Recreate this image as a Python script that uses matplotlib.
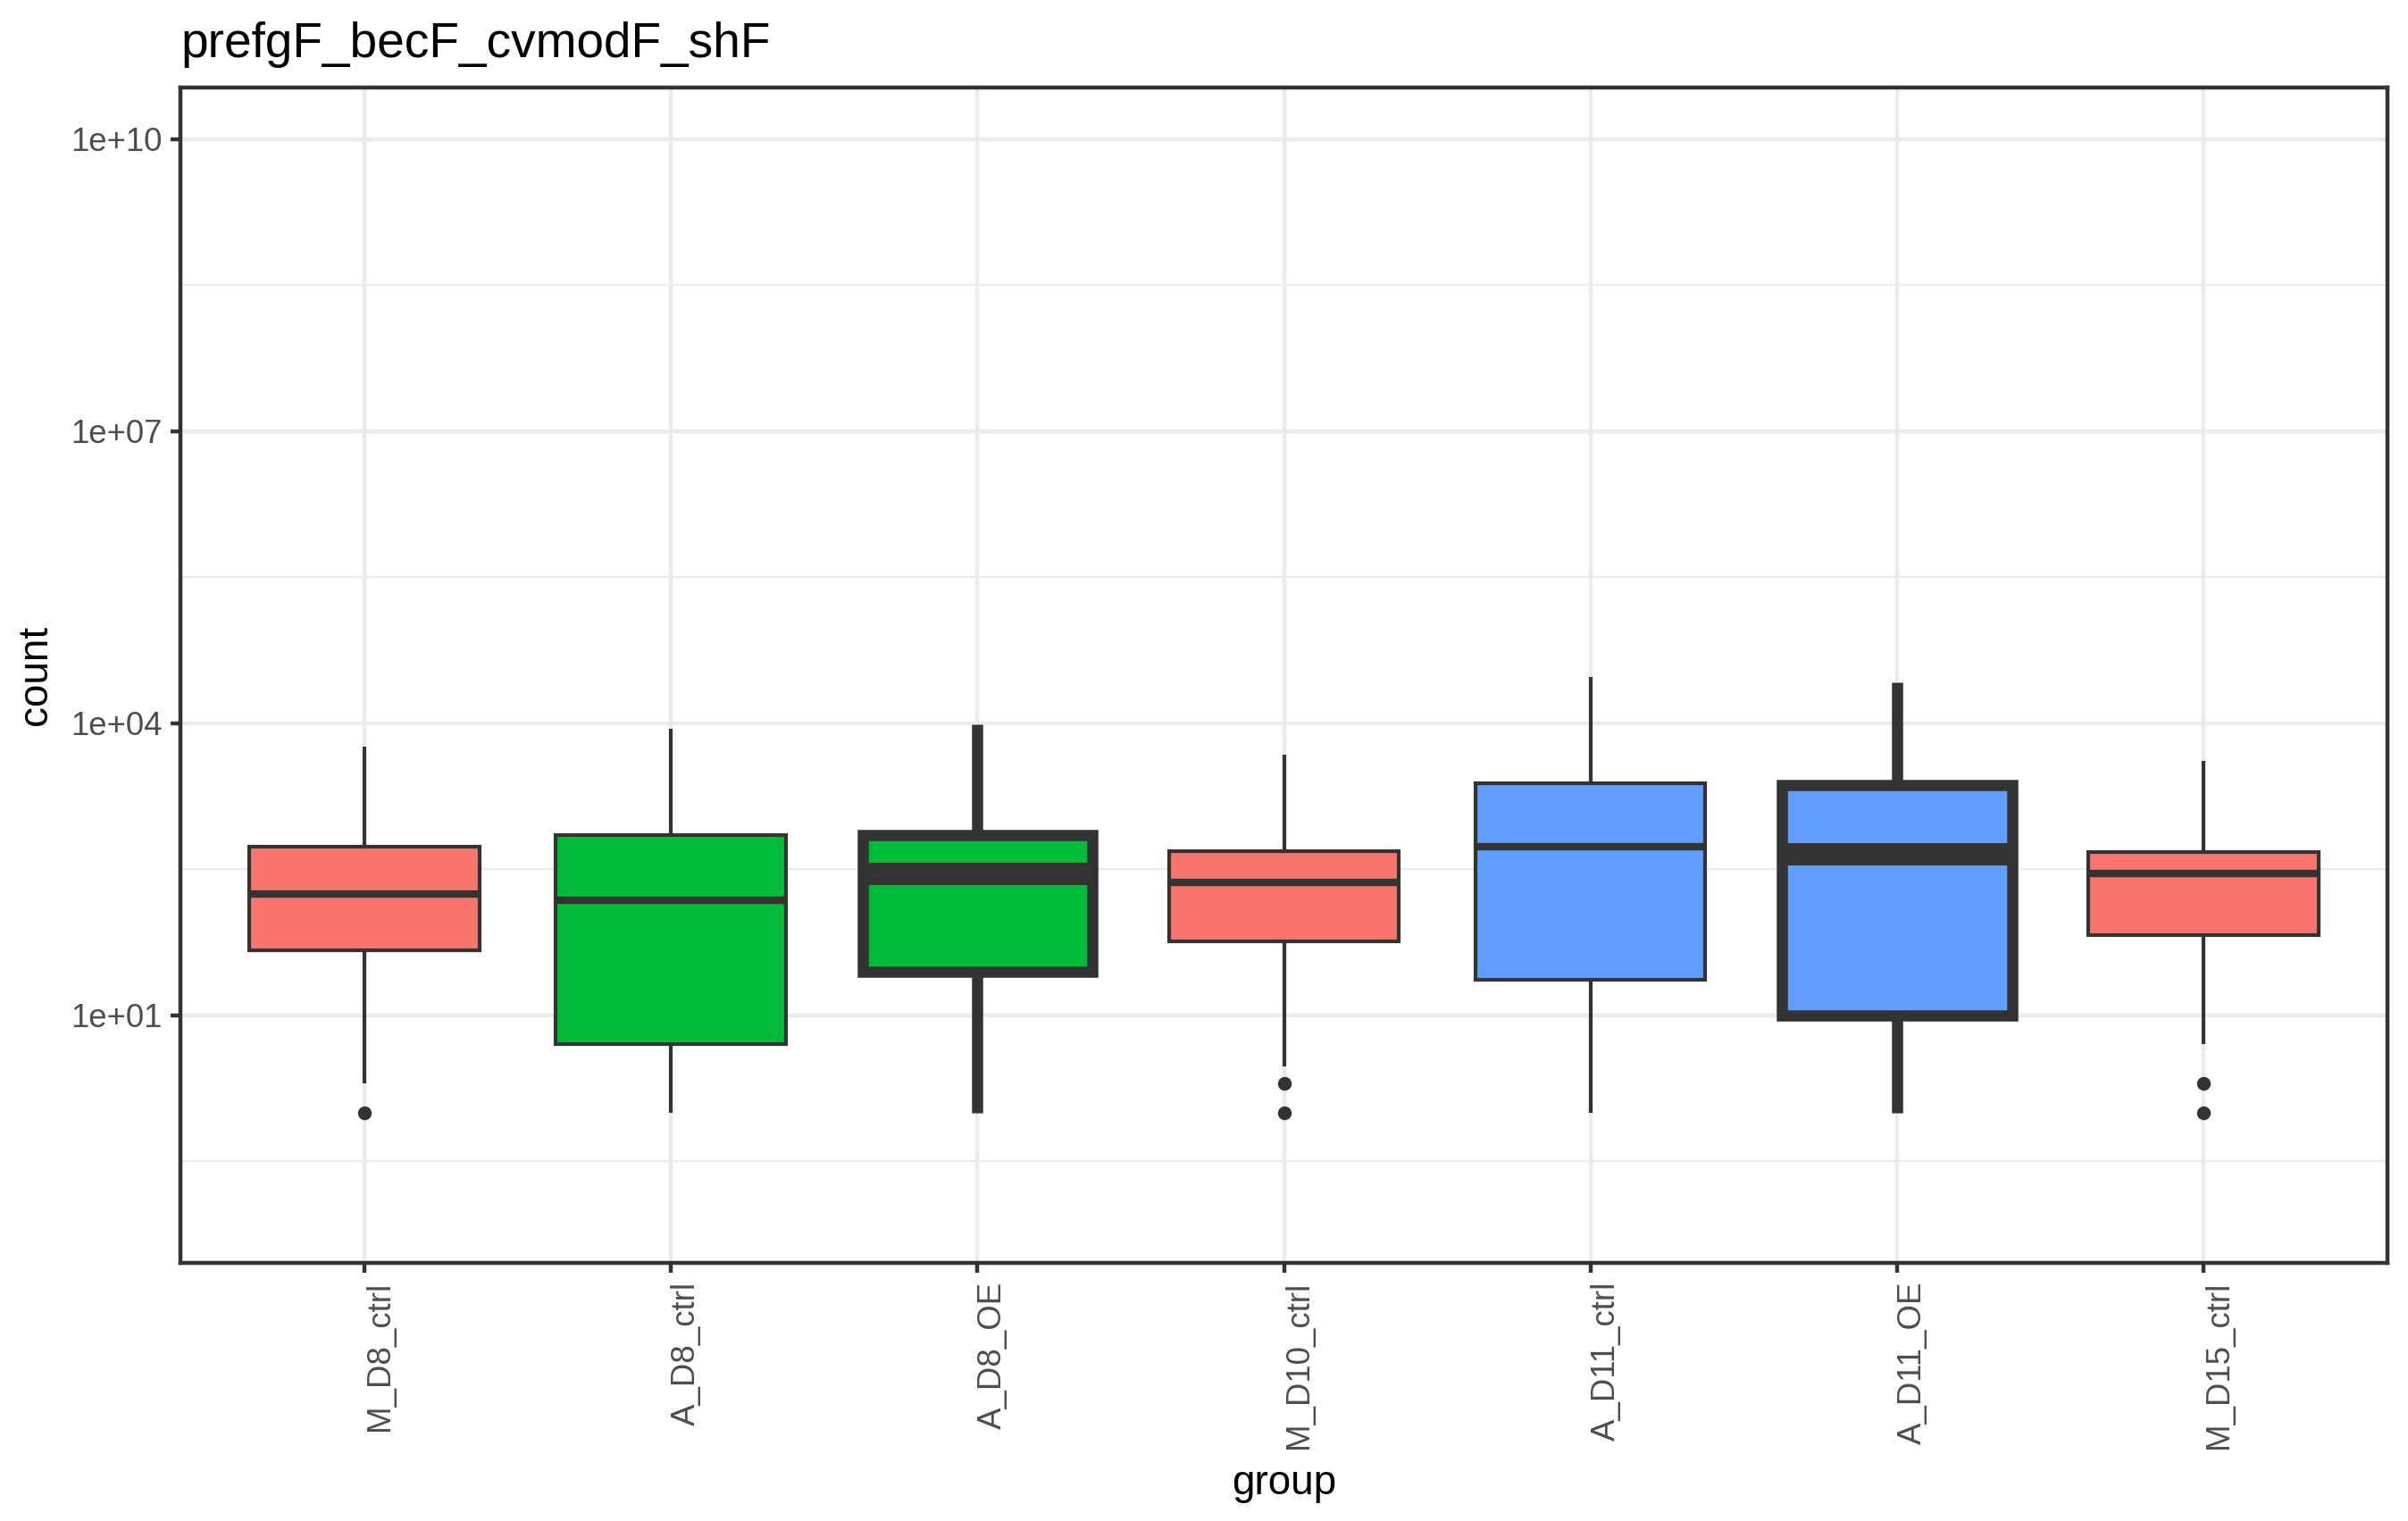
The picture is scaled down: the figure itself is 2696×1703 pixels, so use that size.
#!/usr/bin/env python3
"""Boxplot of counts per group (log scale), ggplot theme_bw look."""

import matplotlib
matplotlib.use("Agg")
import matplotlib.pyplot as plt
from matplotlib.ticker import FixedLocator, NullFormatter

plt.rcParams['font.family'] = ['Liberation Sans', 'DejaVu Sans']

# values
groups = ['M_D8_ctrl', 'A_D8_ctrl', 'A_D8_OE', 'M_D10_ctrl',
          'A_D11_ctrl', 'A_D11_OE', 'M_D15_ctrl']
q1 = [46, 5, 28, 57, 23, 10, 66]
med = [177, 153, 287, 233, 540, 455, 287]
q3 = [540, 716, 716, 486, 2430, 2330, 470]
whislo = [2, 1, 1, 3, 1, 1, 5]
whishi = [5700, 8800, 9750, 4750, 29800, 26400, 4100]
outliers = [[1], [], [], [2, 1], [], [], [2, 1]]
thick = [False, False, True, False, False, True, False]

fill_colors = {'M': '#F8766D', 'A_D8': '#00BA38', 'A_D11': '#619CFF'}
y_ticks = [1e1, 1e4, 1e7, 1e10]
y_ticklabels = ['1e+01', '1e+04', '1e+07', '1e+10']
y_minor = [10 ** -0.5, 10 ** 2.5, 10 ** 5.5, 10 ** 8.5]


def fill_for(name):
    if name.startswith('M_'):
        return fill_colors['M']
    if name.startswith('A_D8'):
        return fill_colors['A_D8']
    return fill_colors['A_D11']


def main():
    fig = plt.figure(figsize=(2696 / 300, 1703 / 300), dpi=300)
    ax = fig.add_axes([202 / 2696, 1 - 1414 / 1703,
                       (2673 - 202) / 2696, (1414 - 98) / 1703])

    edge = '#333333'
    ax.set_yscale('log')
    for i, g in enumerate(groups):
        st = [{'med': med[i], 'q1': q1[i], 'q3': q3[i],
               'whislo': whislo[i], 'whishi': whishi[i],
               'fliers': outliers[i], 'label': g}]
        lw = 3.0 if thick[i] else 1.0
        ax.bxp(st, positions=[i + 1], widths=0.75, patch_artist=True,
               showcaps=False, manage_ticks=False,
               boxprops=dict(facecolor=fill_for(g), edgecolor=edge, linewidth=lw),
               medianprops=dict(color=edge, linewidth=2 * lw, solid_capstyle='butt'),
               whiskerprops=dict(color=edge, linewidth=lw, solid_capstyle='butt'),
               flierprops=dict(marker='o', markersize=3.7, markerfacecolor=edge,
                               markeredgecolor=edge, markeredgewidth=0),
               zorder=3)

    ax.set_xlim(0.4, len(groups) + 0.6)
    ax.set_ylim(10 ** -1.545, 10 ** 10.532)

    ax.set_xticks(range(1, len(groups) + 1))
    ax.set_xticklabels(groups, rotation=90, ha='left', va='top',
                       color='#4D4D4D', fontsize=8.8)
    ax.yaxis.set_major_locator(FixedLocator(y_ticks))
    ax.set_yticklabels(y_ticklabels, color='#4D4D4D', fontsize=8.8)
    ax.yaxis.set_minor_locator(FixedLocator(y_minor))
    ax.yaxis.set_minor_formatter(NullFormatter())

    ax.tick_params(which='major', length=2.75, width=1.07, color='#333333', pad=2.2)
    ax.tick_params(which='minor', length=0)
    for lab in ax.get_xticklabels():
        lab.set_x(lab.get_position()[0])

    ax.grid(True, which='major', color='#EBEBEB', linewidth=1.07, zorder=0)
    ax.grid(True, which='minor', axis='y', color='#EBEBEB', linewidth=0.53, zorder=0)
    ax.set_axisbelow(True)
    for sp in ax.spines.values():
        sp.set_color('#333333')
        sp.set_linewidth(1.07)

    ax.set_xlabel('group', fontsize=11, labelpad=4)
    ax.set_ylabel('count', fontsize=11, labelpad=4)
    ax.set_title('prefgF_becF_cvmodF_shF', loc='left', fontsize=13.2, pad=8.2)

    fig.savefig('out.png', dpi=300)


if __name__ == "__main__":
    main()
